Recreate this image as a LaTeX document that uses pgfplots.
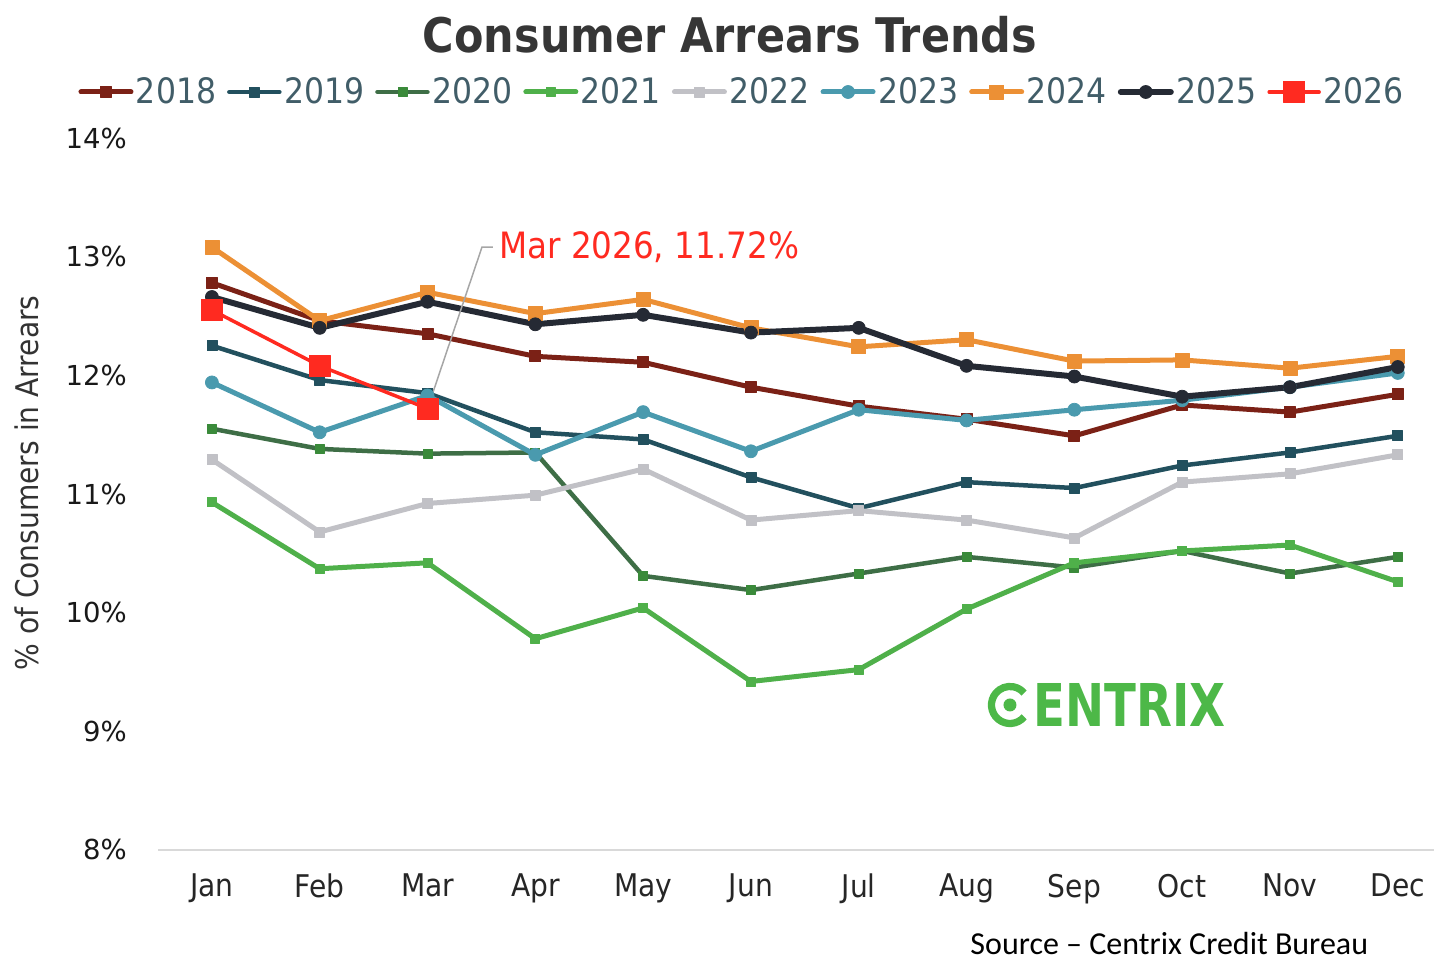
\documentclass[border=0pt]{standalone}
\usepackage{pgfplots}
\usepackage{pgfplotstable}
\pgfplotsset{compat=1.18}
\usepackage{fontspec}
\setmainfont{DejaVu Sans}
\newfontfamily\cond{DejaVu Sans Condensed}
\newfontfamily\carl{Carlito}
\definecolor{c18}{HTML}{7B2116}
\definecolor{c19}{HTML}{22505E}
\definecolor{c20}{HTML}{3E6E46}
\definecolor{c20m}{HTML}{3A8A3A}
\definecolor{c21}{HTML}{4FB04A}
\definecolor{c22}{HTML}{C1C1C6}
\definecolor{c23}{HTML}{4A9AAE}
\definecolor{c24}{HTML}{EC9035}
\definecolor{c25}{HTML}{252A34}
\definecolor{c26}{HTML}{FF2A20}
\definecolor{legtext}{HTML}{415D68}
\definecolor{titlec}{HTML}{363636}
\definecolor{logog}{HTML}{4DB848}

\pgfplotstableread{
m y2018 y2019 y2020 y2021 y2022 y2023 y2024 y2025
0 12.78 12.25 11.55 10.93 11.29 11.94 13.08 12.66
1 12.46 11.96 11.38 10.37 10.68 11.52 12.46 12.40
2 12.35 11.85 11.34 10.42 10.92 11.83 12.70 12.62
3 12.16 11.52 11.35 9.78 10.99 11.33 12.52 12.43
4 12.11 11.46 10.31 10.04 11.21 11.69 12.64 12.51
5 11.90 11.14 10.19 9.42 10.78 11.36 12.40 12.36
6 11.74 10.88 10.33 9.52 10.86 11.71 12.24 12.40
7 11.63 11.10 10.47 10.03 10.78 11.62 12.30 12.08
8 11.49 11.05 10.38 10.42 10.63 11.71 12.12 11.99
9 11.75 11.24 10.52 10.52 11.10 11.79 12.13 11.82
10 11.69 11.35 10.33 10.57 11.17 11.90 12.06 11.90
11 11.84 11.49 10.47 10.26 11.33 12.02 12.16 12.07
}\arrears

\begin{document}
\begin{tikzpicture}
\path[use as bounding box] (0,0) rectangle (573.6pt,384.4pt);
\begin{axis}[
  at={(63.2pt,44.4pt)}, anchor=south west,
  scale only axis, width=510.4pt, height=284.8pt,
  xmin=-0.5, xmax=11.336, ymin=8, ymax=14,
  axis x line*=bottom, axis y line*=left,
  x axis line style={draw=black!15, line width=0.8pt, -},
  y axis line style={draw=none},
  major tick length=0pt,
  xtick={0,...,11},
  xticklabels={Jan,Feb,Mar,Apr,May,Jun,Jul,Aug,Sep,Oct,Nov,Dec},
  ytick={8,...,14},
  yticklabels={8\%,9\%,10\%,11\%,12\%,13\%,14\%},
  xticklabel style={font=\cond\fontsize{12.5}{14}\selectfont, text=black!85, yshift=-6pt},
  yticklabel style={font=\fontsize{11}{13}\selectfont, text=black!90, xshift=-9pt},
  clip=false,
  every axis plot/.append style={line join=round, line cap=round},
  legend columns=9,
  legend style={at={(-0.0627,1.0646)}, anchor=west, draw=none, fill=none, inner sep=0pt,
    font=\cond\fontsize{14}{16}\selectfont, text=legtext,
    nodes={inner sep=1pt},
    /tikz/every even column/.append style={column sep=3.4pt}},
  legend image code/.code={\draw[mark repeat=2,mark phase=2] plot coordinates {(0pt,0pt) (10pt,0pt) (20pt,0pt)};},
]
\addplot[c18, line width=2pt, mark=square*, mark size=2.2pt, mark options={line width=0.3pt}] table[x=m,y=y2018] {\arrears};
\addlegendentry{2018}
\addplot[c19, line width=1.8pt, mark=square*, mark size=2pt, mark options={line width=0.3pt}] table[x=m,y=y2019] {\arrears};
\addlegendentry{2019}
\addplot[c20, line width=1.8pt, mark=square*, mark size=1.8pt, mark options={line width=0.3pt, draw=c20m, fill=c20m}] table[x=m,y=y2020] {\arrears};
\addlegendentry{2020}
\addplot[c21, line width=2pt, mark=square*, mark size=1.8pt, mark options={line width=0.3pt}] table[x=m,y=y2021] {\arrears};
\addlegendentry{2021}
\addplot[c22, line width=2pt, mark=square*, mark size=2pt, mark options={line width=0.3pt}] table[x=m,y=y2022] {\arrears};
\addlegendentry{2022}
\addplot[c23, line width=2pt, mark=*, mark size=2.6pt, mark options={line width=0.3pt}] table[x=m,y=y2023] {\arrears};
\addlegendentry{2023}
\addplot[c24, line width=2pt, mark=square*, mark size=2.8pt, mark options={line width=0.3pt}] table[x=m,y=y2024] {\arrears};
\addlegendentry{2024}
\addplot[c25, line width=2.4pt, mark=*, mark size=2.6pt, mark options={line width=0.3pt}] table[x=m,y=y2025] {\arrears};
\addlegendentry{2025}
\addplot[c26, line width=1.4pt, mark=square*, mark size=4.2pt, mark options={line width=0.3pt}] coordinates {(0,12.55) (1,12.08) (2,11.72)};
\addlegendentry{2026}
% annotation
\draw[black!35, line width=0.6pt] (axis cs:2,11.72) -- (axis cs:2.505,13.08) -- (axis cs:2.607,13.08);
\node[anchor=west, text=c26, font=\cond\fontsize{14.5}{16}\selectfont, inner sep=0pt] at (axis cs:2.66,13.08) {Mar 2026, 11.72\%};
\end{axis}
\begin{scope}[x=0.4pt, y=-0.4pt, yshift=384.4pt]
% title
\node[font=\cond\bfseries\fontsize{22}{26}\selectfont, text=titlec] at (730,35) {\resizebox{245.6pt}{!}{Consumer Arrears Trends}};
% y label
\node[rotate=90, font=\cond\fontsize{12.5}{14}\selectfont, text=black!80] at (27,483) {\% of Consumers in Arrears};
% source
\node[anchor=west, font=\carl\fontsize{12.8}{16}\selectfont, inner sep=0pt] at (970,944) {Source – Centrix Credit Bureau};
% logo
\draw[logog, line width=2.9pt] (1010,705) ++(40:18.5) arc[start angle=40, end angle=320, radius=18.5];
\fill[logog] (1010,705) circle[radius=6.5];
\node[anchor=west, inner sep=0pt, text=logog, font=\cond\bfseries] at (1033,705.5) {\resizebox{76.8pt}{17.2pt}{ENTRIX}};
\end{scope}
\end{tikzpicture}
\end{document}
